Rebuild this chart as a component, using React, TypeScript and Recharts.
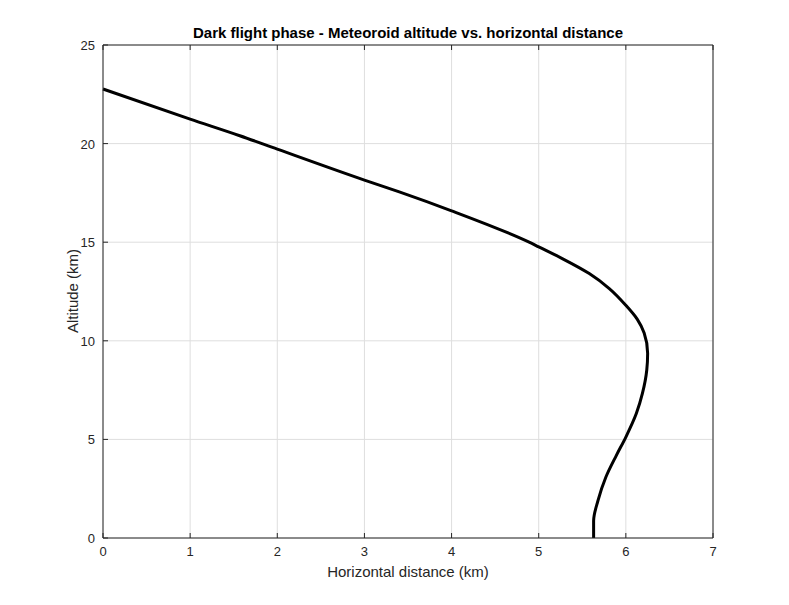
import React from "react";
import { LineChart, Line, XAxis, YAxis, CartesianGrid } from "recharts";

// horizontal distance (km) and altitude (km), read along the trajectory
const distanceKm = [0, 1, 1.57, 2, 3, 3.4, 4, 4.89, 5.0, 5.27, 5.58, 5.81, 6.0, 6.13, 6.21, 6.25, 6.24, 6.19, 6.12, 6.0, 5.89, 5.77, 5.68, 5.63, 5.63];
const altitudeKm = [22.77, 21.24, 20.4, 19.72, 18.15, 17.55, 16.59, 15.0, 14.76, 14.17, 13.41, 12.65, 11.8, 11.1, 10.39, 9.37, 8.52, 7.33, 6.31, 5.12, 4.18, 3.08, 1.89, 0.87, 0];

const xTicks = [0, 1, 2, 3, 4, 5, 6, 7];
const yTicks = [0, 5, 10, 15, 20, 25];

const W = 789;
const H = 605;
const FONT = '"Liberation Sans", Arial, Helvetica, sans-serif';
const INK = "#262626";

const data = distanceKm.map((x, i) => ({ x, alt: altitudeKm[i] }));

function tickMaker(side: "bottom" | "top" | "left" | "right", showText: boolean) {
  return (props: any) => {
    const { x, y, payload } = props;
    const len = 5;
    let line;
    if (side === "bottom") line = <line x1={x} y1={y} x2={x} y2={y - len} stroke={INK} />;
    else if (side === "top") line = <line x1={x} y1={y} x2={x} y2={y + len} stroke={INK} />;
    else if (side === "left") line = <line x1={x} y1={y} x2={x + len} y2={y} stroke={INK} />;
    else line = <line x1={x} y1={y} x2={x - len} y2={y} stroke={INK} />;
    return (
      <g>
        {line}
        {showText && side === "bottom" && (
          <text x={x} y={y + 18} textAnchor="middle" fill={INK} fontSize={13} fontFamily={FONT}>
            {payload.value}
          </text>
        )}
        {showText && side === "left" && (
          <text x={x - 8} y={y + 5} textAnchor="end" fill={INK} fontSize={13} fontFamily={FONT}>
            {payload.value}
          </text>
        )}
      </g>
    );
  };
}

export default function App() {
  return (
    <div style={{ position: "absolute", left: 0, top: 0, width: W, height: H, background: "#fff", fontFamily: FONT }}>
      <div style={{ position: "absolute", left: 103, width: 610, top: 24, textAlign: "center", fontWeight: "bold", fontSize: 15, color: "#000" }}>
        Dark flight phase - Meteoroid altitude vs. horizontal distance
      </div>
      <LineChart width={W} height={H} data={data} margin={{ top: 44, right: 75, bottom: 66, left: 102 }}>
        <CartesianGrid stroke="#dedede" />
        <XAxis
          dataKey="x" type="number" domain={[0, 7]} ticks={xTicks}
          height={1} tickSize={0} tickMargin={0} interval={0}
          axisLine={{ stroke: INK }} tickLine={false}
          tick={tickMaker("bottom", true)}
        />
        <XAxis
          xAxisId="top" orientation="top" dataKey="x" type="number" domain={[0, 7]} ticks={xTicks}
          height={1} tickSize={0} tickMargin={0} interval={0}
          axisLine={{ stroke: INK }} tickLine={false}
          tick={tickMaker("top", false)}
        />
        <YAxis
          dataKey="alt" type="number" domain={[0, 25]} ticks={yTicks}
          width={1} tickSize={0} tickMargin={0} interval={0}
          axisLine={{ stroke: INK }} tickLine={false}
          tick={tickMaker("left", true)}
        />
        <YAxis
          yAxisId="right" orientation="right" type="number" domain={[0, 25]} ticks={yTicks}
          width={1} tickSize={0} tickMargin={0} interval={0}
          axisLine={{ stroke: INK }} tickLine={false}
          tick={tickMaker("right", false)}
        />
        <Line
          dataKey="alt" type="monotoneY" stroke="#000" strokeWidth={3}
          dot={false} isAnimationActive={false}
        />
      </LineChart>
      <div style={{ position: "absolute", left: 103, width: 610, top: 563, textAlign: "center", fontSize: 15, color: INK }}>
        Horizontal distance (km)
      </div>
      <div
        style={{
          position: "absolute", left: 72, top: 291, fontSize: 15, color: INK, whiteSpace: "nowrap",
          transform: "translate(-50%, -50%) rotate(-90deg)",
        }}
      >
        Altitude (km)
      </div>
    </div>
  );
}
